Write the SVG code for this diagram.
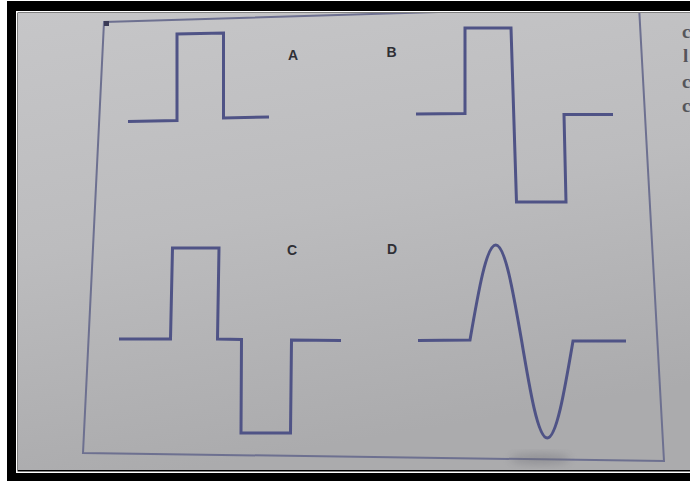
<svg xmlns="http://www.w3.org/2000/svg" width="690" height="481" viewBox="0 0 690 481">
<defs>
<linearGradient id="bg" x1="0" y1="0" x2="0.25" y2="1">
<stop offset="0" stop-color="#c6c6c8"/>
<stop offset="0.5" stop-color="#bcbcbe"/>
<stop offset="1" stop-color="#ababad"/>
</linearGradient>
<clipPath id="photo"><rect x="18" y="13" width="672" height="457"/></clipPath>
<filter id="blur" x="-50%" y="-50%" width="200%" height="200%"><feGaussianBlur stdDeviation="4"/></filter>
<style>
.wave{fill:none;stroke:#4f5386;stroke-width:3;stroke-linejoin:miter;stroke-linecap:butt}
.frame{fill:none;stroke:#6d7090;stroke-width:2}
.lbl{font-family:"Liberation Sans",Arial,sans-serif;font-weight:bold;font-size:14px;fill:#2f2f35;text-anchor:middle}
.side{font-family:"Liberation Serif","Times New Roman",serif;font-size:19px;font-weight:bold;fill:#55555a}
</style>
</defs>
<rect width="690" height="481" fill="#ffffff"/>
<rect x="7" y="1" width="683" height="480" fill="#000000"/>
<rect x="16.75" y="11.75" width="680" height="460.5" fill="none" stroke="#ffffff" stroke-width="1.5"/>
<rect x="18" y="13" width="672" height="457" fill="url(#bg)"/>
<g clip-path="url(#photo)">
<g id="page-frame">
<polygon class="frame" points="104,22 639,6 664,461 83,453"/>
<rect x="104" y="21" width="5" height="5" fill="#3a3a55"/>
<ellipse cx="540" cy="459" rx="30" ry="5" fill="#6e6e76" opacity="0.45" filter="url(#blur)"/>
</g>
<g id="wave-A">
<path class="wave" d="M128,121.5 L177,120.5 L177,34 L223.5,33 L223.5,118 L269,117"/>
<text class="lbl" x="293" y="60">A</text>
</g>
<g id="wave-B">
<path class="wave" d="M416,114 L465,113.5 L465,28 L511,28 L516.5,202 L566,202 L564,114.5 L613,114.5"/>
<text class="lbl" x="391.5" y="57">B</text>
</g>
<g id="wave-C">
<path class="wave" d="M119,339 L170.5,339 L172.5,248 L219,248 L217.5,339 L241.5,339.5 L241,433 L290.5,433 L291.5,340 L341,340.5"/>
<text class="lbl" x="292" y="255">C</text>
</g>
<g id="wave-D">
<path class="wave" d="M418,340.5 L470,340 C478.4,291.3 486.4,245 495.75,245 C505.1,245 513.1,291.3 521.5,340 C529.9,390.2 537.9,438 547.25,438 C556.6,438 564.6,390.2 573,341 L626,341"/>
<text class="lbl" x="392" y="254">D</text>
</g>
<g id="side-text">
<text class="side" x="682" y="38">c</text>
<text class="side" x="683" y="62">l</text>
<text class="side" x="682" y="88">c</text>
<text class="side" x="682" y="112">c</text>
</g>
</g>
</svg>
